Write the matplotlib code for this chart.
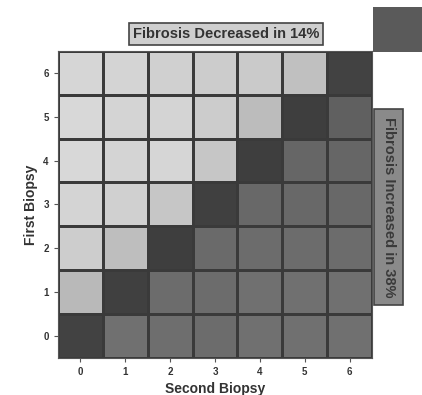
import numpy as np
import matplotlib
matplotlib.use('Agg')
import matplotlib.pyplot as plt
from matplotlib.patches import Rectangle

plt.rcParams['font.family'] = ['Liberation Sans', 'DejaVu Sans']
plt.rcParams['font.weight'] = 'bold'

# fibrosis stage at each biopsy
second_stage = [0, 1, 2, 3, 4, 5, 6]
first_stage = [0, 1, 2, 3, 4, 5, 6]

# grey level of each cell (row = first biopsy 0..6)
shade = np.array([
    [66, 112, 110, 108, 112, 112, 112],
    [185, 64, 108, 108, 112, 112, 112],
    [205, 190, 62, 106, 108, 108, 108],
    [212, 208, 198, 64, 104, 104, 104],
    [216, 212, 214, 198, 62, 102, 102],
    [216, 212, 212, 204, 188, 62, 96],
    [214, 212, 208, 204, 202, 192, 66],
])

decreased_pct = 14
increased_pct = 38

fig = plt.figure(figsize=(4.22, 3.95), dpi=100)
ax = fig.add_axes([0.137, 0.094, 0.745, 0.777])

ax.pcolormesh(np.arange(8) - 0.5, np.arange(8) - 0.5, shade,
              cmap='gray', vmin=0, vmax=255,
              edgecolors='#3a3a3a', linewidth=1.0)
ax.set_xlim(-0.5, 6.5)
ax.set_ylim(-0.5, 6.5)
ax.set_xticks(second_stage)
ax.set_yticks(first_stage)
ax.tick_params(labelsize=7, length=3, color='#555555', labelcolor='#333333')
for s in ax.spines.values():
    s.set_color('#555555')

ax.set_xlabel('Second Biopsy', fontsize=10, fontweight='bold', color='#333333', labelpad=4)
ax.set_ylabel('First Biopsy', fontsize=10, fontweight='bold', color='#333333', labelpad=4)

fig.text(0.536, 0.914, 'Fibrosis Decreased in %d%%' % decreased_pct,
         ha='center', va='center', fontsize=10.5, color='#333333',
         bbox=dict(boxstyle='square,pad=0.28', fc='#cfcfcf', ec='#444444', lw=1.2))

fig.text(0.921, 0.476, 'Fibrosis Increased in %d%%' % increased_pct,
         ha='center', va='center', rotation=-90, fontsize=10.5, color='#3a3a3a',
         bbox=dict(boxstyle='square,pad=0.5', fc='#8a8a8a', ec='#444444', lw=1.2))

# dark legend patch at the top right corner (cut off in the scan)
fig.add_artist(Rectangle((0.884, 0.868), 0.12, 0.114, transform=fig.transFigure,
                         fc='#5a5a5a', ec='none'))

fig.savefig('out.png', dpi=100)
